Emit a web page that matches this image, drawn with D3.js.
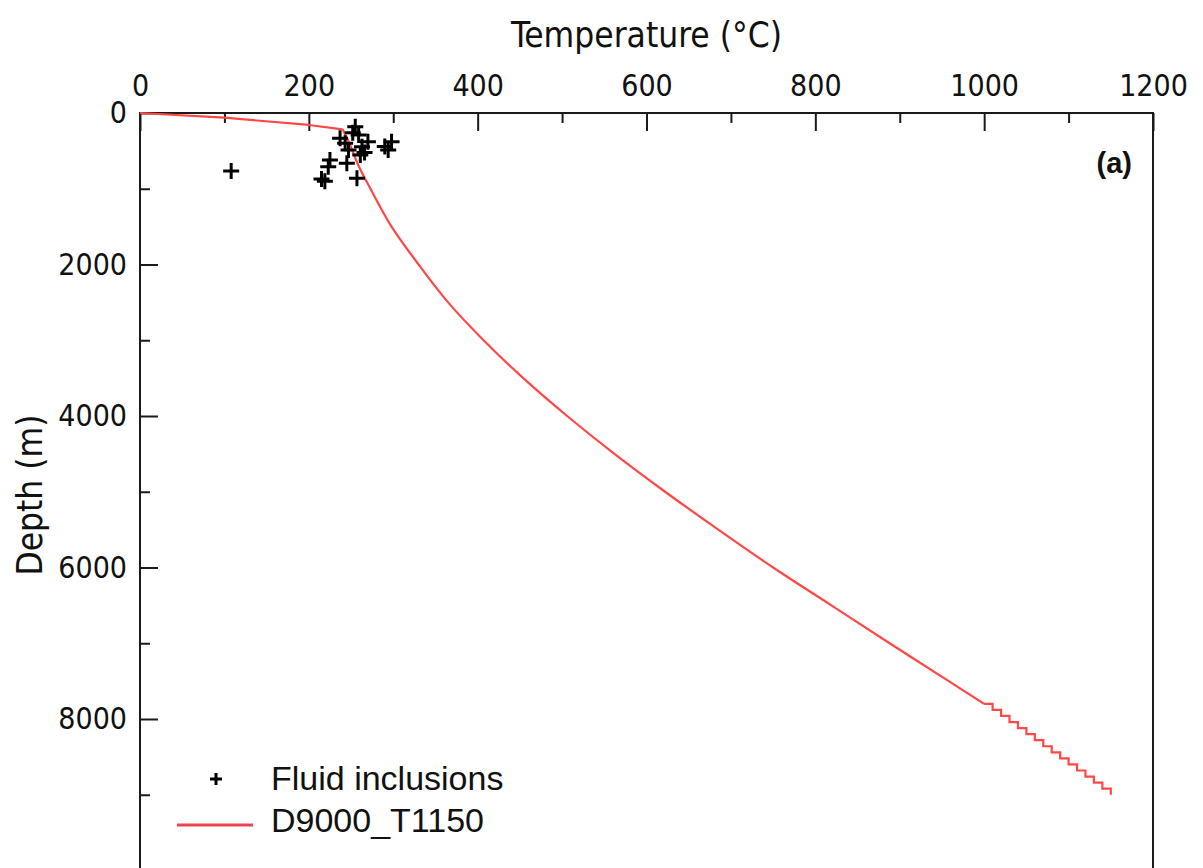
<!DOCTYPE html>
<html>
<head>
<meta charset="utf-8">
<script src="https://cdn.jsdelivr.net/npm/d3@7"></script>
<style>
  html, body { margin: 0; padding: 0; background: #fff; }
  svg { display: block; }
  .cond { font-family: "DejaVu Sans Condensed", "DejaVu Sans", sans-serif; font-stretch: condensed; }
  .arial { font-family: "Liberation Sans", Arial, sans-serif; }
</style>
</head>
<body>
<svg id="chart" width="1203" height="868"></svg>
<script>
// ---- Data ----
// Fluid inclusions: homogenisation temperature (°C) and depth (m)
const fiTemp  = [108, 255, 237, 259, 270, 263, 247, 243, 298, 294, 290, 225, 223, 245, 215, 219, 257, 252, 266, 261];
const fiDepth = [766, 180, 334, 290, 378, 444, 488, 400, 378, 488, 443, 620, 708, 664, 870, 900, 862, 260, 520, 554];

// Modelled geotherm D9000_T1150: near-surface segment
const surfTemp  = [0, 100, 200, 240];
const surfDepth = [0, 62, 158, 215];

// Modelled geotherm: smooth deeper part
const geoTemp  = [240, 248, 259, 273, 298, 330, 365, 407, 454, 506, 562, 622, 685, 750, 819, 888, 958, 1000];
const geoDepth = [215, 400, 700, 1000, 1500, 2000, 2500, 3000, 3500, 4000, 4500, 5000, 5500, 6000, 6500, 7000, 7500, 7800];

// Modelled geotherm: stair-stepped deepest part
const stepTemp  = [1000, 1010, 1020, 1030, 1040, 1050, 1060, 1070, 1080, 1090, 1100, 1110, 1120, 1130, 1140, 1150];
const stepDepth = [7800, 7880, 7960, 8040, 8120, 8200, 8280, 8360, 8440, 8520, 8600, 8680, 8760, 8840, 8920, 9000];

const xMajorTicks = [0, 200, 400, 600, 800, 1000, 1200];
const xMinorTicks = [100, 300, 500, 700, 900, 1100];
const yMajorTicks = [0, 2000, 4000, 6000, 8000];
const yMinorTicks = [1000, 3000, 5000, 7000, 9000];

const seriesNames = ["Fluid inclusions", "D9000_T1150"];

// ---- Layout ----
const svg = d3.select("#chart");
const mLeft = 140, mRight = 1153, mTop = 113, mBottom = 870.5;
const x = d3.scaleLinear().domain([0, 1200]).range([mLeft, mRight]);
const y = d3.scaleLinear().domain([0, 10000]).range([mTop, mBottom]);

const axisColor = "#1a1a1a";
const red = "#ff4747";

// frame (left, top, right)
svg.append("path")
  .attr("d", `M${mLeft},${mBottom + 5}V${mTop}H${mRight}V${mBottom + 5}`)
  .attr("fill", "none").attr("stroke", axisColor).attr("stroke-width", 2);

// top axis major
const gx = svg.append("g").attr("class", "cond").attr("transform", `translate(0,${mTop})`)
  .call(d3.axisTop(x).tickValues(xMajorTicks).tickSize(-18).tickPadding(17).tickFormat(d3.format("d")));
gx.select(".domain").remove();
gx.selectAll(".tick line").attr("stroke", axisColor).attr("stroke-width", 2);
gx.selectAll(".tick text").attr("fill", "#111").style("font-size", "30px").attr("dy", 0);

const gxm = svg.append("g").attr("transform", `translate(0,${mTop})`)
  .call(d3.axisTop(x).tickValues(xMinorTicks).tickSize(-10).tickFormat(""));
gxm.select(".domain").remove();
gxm.selectAll(".tick line").attr("stroke", axisColor).attr("stroke-width", 2);

// left axis major
const gy = svg.append("g").attr("class", "cond").attr("transform", `translate(${mLeft},0)`)
  .call(d3.axisLeft(y).tickValues(yMajorTicks).tickSize(-18).tickPadding(13).tickFormat(d3.format("d")));
gy.select(".domain").remove();
gy.selectAll(".tick line").attr("stroke", axisColor).attr("stroke-width", 2);
gy.selectAll(".tick text").attr("fill", "#111").style("font-size", "30px");

const gym = svg.append("g").attr("transform", `translate(${mLeft},0)`)
  .call(d3.axisLeft(y).tickValues(yMinorTicks).tickSize(-10).tickFormat(""));
gym.select(".domain").remove();
gym.selectAll(".tick line").attr("stroke", axisColor).attr("stroke-width", 2);

// axis titles
svg.append("text").attr("class", "cond")
  .attr("x", (mLeft + mRight) / 2).attr("y", 47)
  .attr("text-anchor", "middle").attr("fill", "#111")
  .style("font-size", "35px")
  .text("Temperature (°C)");

svg.append("text").attr("class", "cond")
  .attr("transform", `translate(42,495) rotate(-90)`)
  .attr("text-anchor", "middle").attr("fill", "#111")
  .style("font-size", "35px")
  .text("Depth (m)");

// panel label
svg.append("text").attr("class", "arial")
  .attr("x", 1132).attr("y", 173).attr("text-anchor", "end")
  .attr("fill", "#111").style("font-size", "29px").style("font-weight", "bold")
  .text("(a)");

// geotherm
const lineGen = d3.line().x(d => x(d[0])).y(d => y(d[1]));
const surfData = surfTemp.map((t, i) => [t, surfDepth[i]]);
const geoData = geoTemp.map((t, i) => [t, geoDepth[i]]);
const stepData = stepTemp.map((t, i) => [t, stepDepth[i]]);

svg.append("path").datum(surfData)
  .attr("d", lineGen.curve(d3.curveLinear)(surfData))
  .attr("fill", "none").attr("stroke", red).attr("stroke-width", 2.2).attr("stroke-linejoin", "round");

svg.append("path").datum(geoData)
  .attr("d", lineGen.curve(d3.curveCatmullRom.alpha(0.5))(geoData))
  .attr("fill", "none").attr("stroke", red).attr("stroke-width", 2.2);

svg.append("path").datum(stepData)
  .attr("d", lineGen.curve(d3.curveStepAfter)(stepData))
  .attr("fill", "none").attr("stroke", red).attr("stroke-width", 2.2);

// fluid inclusions
const plus = "M-8,0H8M0,-8V8";
svg.append("g").selectAll("path")
  .data(fiTemp.map((t, i) => [t, fiDepth[i]]))
  .join("path")
  .attr("transform", d => `translate(${x(d[0])},${y(d[1])})`)
  .attr("d", plus)
  .attr("stroke", "#000").attr("stroke-width", 3).attr("fill", "none");

// legend
const lg = svg.append("g");
lg.append("path").attr("transform", "translate(216,779)").attr("d", "M-6,0H6M0,-6V6")
  .attr("stroke", "#000").attr("stroke-width", 3);
lg.append("text").attr("class", "arial").attr("x", 271).attr("y", 790)
  .attr("fill", "#111").style("font-size", "34px").text(seriesNames[0]);
lg.append("line").attr("x1", 177).attr("x2", 253).attr("y1", 825).attr("y2", 825)
  .attr("stroke", "#ee4450").attr("stroke-width", 3);
lg.append("text").attr("class", "arial").attr("x", 271).attr("y", 832)
  .attr("fill", "#111").style("font-size", "34px").text(seriesNames[1]);
</script>
</body>
</html>
